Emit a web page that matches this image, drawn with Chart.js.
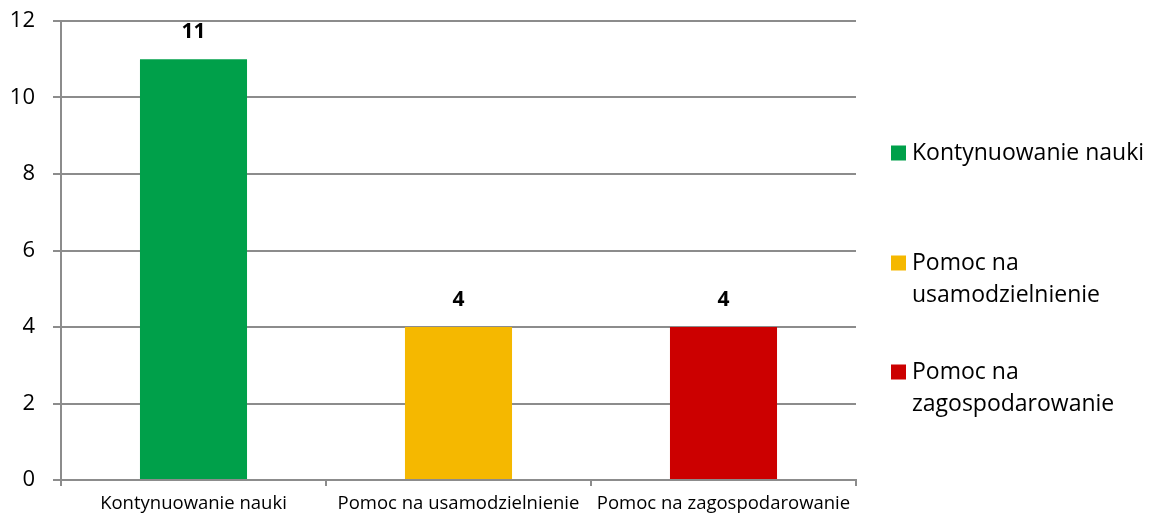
<!DOCTYPE html>
<html>
<head>
<meta charset="utf-8">
<script src="https://cdn.jsdelivr.net/npm/chart.js@4.4.1/dist/chart.umd.min.js"></script>
<style>
html,body{margin:0;padding:0;background:#fff;}
#wrap{width:1155px;height:518px;}
</style>
</head>
<body>
<div id="wrap"><canvas id="c" width="1155" height="518"></canvas></div>
<script>
const categories = ['Kontynuowanie nauki', 'Pomoc na usamodzielnienie', 'Pomoc na zagospodarowanie'];
const values = [11, 4, 4];
const barColors = ['#00A04A', '#F5B800', '#CC0000'];
const yMin = 0, yMax = 12, yStep = 2;

const FONT = "'Open Sans', 'DejaVu Sans', sans-serif";
const GRID = '#8C8C8C';

const dataLabels = {
  id: 'dataLabels',
  afterDatasetsDraw(chart) {
    const ctx = chart.ctx;
    const meta = chart.getDatasetMeta(0);
    ctx.save();
    ctx.font = "bold 21px " + FONT;
    ctx.fillStyle = '#000';
    ctx.textAlign = 'center';
    ctx.textBaseline = 'middle';
    meta.data.forEach((bar, i) => {
      ctx.fillText(String(values[i]), bar.x, bar.y - 27);
    });
    ctx.restore();
  }
};

const sideLegend = {
  id: 'sideLegend',
  afterDraw(chart) {
    const ctx = chart.ctx;
    ctx.save();
    ctx.font = "23px " + FONT;
    ctx.textBaseline = 'middle';
    ctx.textAlign = 'left';
    const boxX = 891, textX = 912, box = 15, lineH = 32, maxW = 240;
    const firstLineY = [153, 263, 372];
    categories.forEach((name, i) => {
      const words = name.split(' ');
      const lines = [];
      let cur = '';
      words.forEach(w => {
        const t = cur ? cur + ' ' + w : w;
        if (ctx.measureText(t).width > maxW && cur) { lines.push(cur); cur = w; }
        else cur = t;
      });
      if (cur) lines.push(cur);
      const y0 = firstLineY[i];
      ctx.fillStyle = barColors[i];
      ctx.fillRect(boxX, y0 - box / 2, box, box);
      ctx.fillStyle = '#000';
      lines.forEach((ln, k) => ctx.fillText(ln, textX, y0 + k * lineH));
    });
    ctx.restore();
  }
};

new Chart(document.getElementById('c'), {
  type: 'bar',
  data: {
    labels: categories,
    datasets: [{
      data: values,
      backgroundColor: barColors,
      borderWidth: 0,
      barPercentage: 0.404,
      categoryPercentage: 1.0
    }]
  },
  options: {
    responsive: false,
    animation: false,
    devicePixelRatio: 1,
    layout: { padding: { top: 21, right: 299, bottom: 0, left: 0 } },
    plugins: { legend: { display: false }, tooltip: { enabled: false } },
    scales: {
      x: {
        grid: { drawOnChartArea: false, drawTicks: true, tickLength: 6, color: GRID, lineWidth: 2 },
        border: { display: true, color: GRID, width: 2 },
        ticks: { color: '#000', font: { family: FONT, size: 18.5 }, maxRotation: 0, minRotation: 0, autoSkip: false, padding: 7 },
        afterFit(s) { s.height = 38; s.paddingLeft = 0; s.paddingRight = 0; }
      },
      y: {
        min: yMin, max: yMax,
        grid: { color: GRID, lineWidth: 2, tickLength: 8, drawTicks: true },
        border: { display: true, color: GRID, width: 2 },
        ticks: { stepSize: yStep, color: '#000', font: { family: FONT, size: 22 }, padding: 18 },
        afterFit(s) { s.width = 61; s.paddingTop = 0; s.paddingBottom = 0; }
      }
    }
  },
  plugins: [dataLabels, sideLegend]
});
</script>
</body>
</html>
